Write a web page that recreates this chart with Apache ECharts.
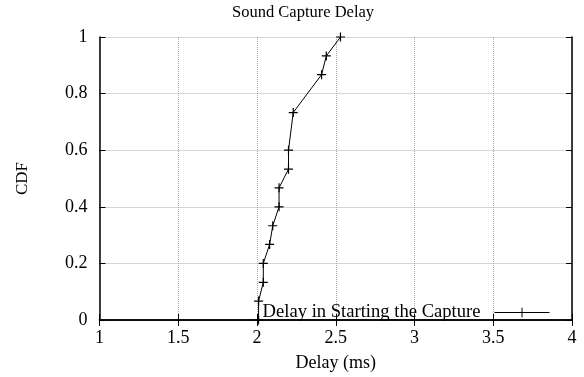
<!DOCTYPE html>
<html>
<head>
<meta charset="utf-8">
<script src="https://cdn.jsdelivr.net/npm/echarts@6/dist/echarts.min.js"></script>
<style>
  html, body {margin: 0; padding: 0; background: #fff;}
  #chart {width: 584px; height: 377px;}
</style>
</head>
<body>
<div id="chart"></div>
<script>
const delays = [2.01, 2.01, 2.04, 2.04, 2.08, 2.10, 2.14, 2.14, 2.20, 2.20, 2.23, 2.41, 2.44, 2.53];
const cdf = [0, 0.067, 0.133, 0.2, 0.267, 0.333, 0.4, 0.467, 0.533, 0.6, 0.733, 0.867, 0.933, 1];
const xTicks = [1, 1.5, 2, 2.5, 3, 3.5, 4];
const yTicks = [0, 0.2, 0.4, 0.6, 0.8, 1];

const font = '"Liberation Serif", "DejaVu Serif", serif';
const plus = 'path://M0,5L10,5M5,0L5,10';

const xRange = {
  min: xTicks[0],
  max: xTicks[xTicks.length - 1],
  interval: xTicks[1] - xTicks[0]
};
const yRange = {
  min: yTicks[0],
  max: yTicks[yTicks.length - 1],
  interval: yTicks[1] - yTicks[0]
};

const mirror = {
  type: 'value',
  axisLine: {show: true, lineStyle: {color: '#000', width: 1.5}},
  axisTick: {show: true, inside: true, length: 6, lineStyle: {color: '#000'}},
  axisLabel: {show: false},
  splitLine: {show: false}
};

const myChart = echarts.init(document.getElementById('chart'), null, {renderer: 'canvas'});
myChart.setOption({
  animation: false,
  backgroundColor: '#fff',
  textStyle: {fontFamily: font, color: '#000'},
  title: {
    text: 'Sound Capture Delay',
    left: 227,
    top: -1,
    textStyle: {fontFamily: font, fontSize: 16.5, fontWeight: 'normal', color: '#000'}
  },
  legend: {
    right: 29,
    top: 298,
    align: 'right',
    itemWidth: 55,
    itemHeight: 12,
    lineStyle: {width: 1, color: '#000'},
    itemStyle: {borderWidth: 1, borderColor: '#000', color: 'none'},
    textStyle: {fontFamily: font, fontSize: 18.6, color: '#000', padding: [0, 9, 0, 0]},
    data: ['Delay in Starting the Capture']
  },
  grid: {left: 99.5, right: 12, top: 37, bottom: 53},
  xAxis: [
    {
      type: 'value',
      ...xRange,
      name: 'Delay (ms)',
      nameLocation: 'middle',
      nameGap: 34,
      nameTextStyle: {fontFamily: font, fontSize: 18, color: '#000'},
      axisLine: {show: true, lineStyle: {color: '#000', width: 1.5}},
      axisTick: {show: true, inside: true, length: 6, lineStyle: {color: '#000'}},
      axisLabel: {fontFamily: font, fontSize: 18, color: '#000', margin: 9},
      splitLine: {show: true, lineStyle: {color: '#aaa', type: 'dotted', width: 1}}
    },
    {...mirror, ...xRange, position: 'top'}
  ],
  yAxis: [
    {
      type: 'value',
      ...yRange,
      name: 'CDF',
      nameLocation: 'middle',
      nameGap: 68,
      nameRotate: 90,
      nameTextStyle: {fontFamily: font, fontSize: 17, color: '#000'},
      axisLine: {show: true, lineStyle: {color: '#000', width: 1.5}},
      axisTick: {show: true, inside: true, length: 6, lineStyle: {color: '#000'}},
      axisLabel: {fontFamily: font, fontSize: 18, color: '#000', margin: 12},
      splitLine: {show: true, lineStyle: {color: '#aaa', type: 'dotted', width: 1}}
    },
    {...mirror, ...yRange, position: 'right'}
  ],
  series: [
    {
      name: 'Delay in Starting the Capture',
      type: 'line',
      xAxisIndex: 0,
      yAxisIndex: 0,
      data: delays.map((d, i) => [d, cdf[i]]),
      symbol: plus,
      symbolSize: 9,
      showAllSymbol: true,
      clip: false,
      lineStyle: {color: '#000', width: 1},
      itemStyle: {color: 'none', borderColor: '#000', borderWidth: 1.2}
    }
  ]
});
</script>
</body>
</html>
